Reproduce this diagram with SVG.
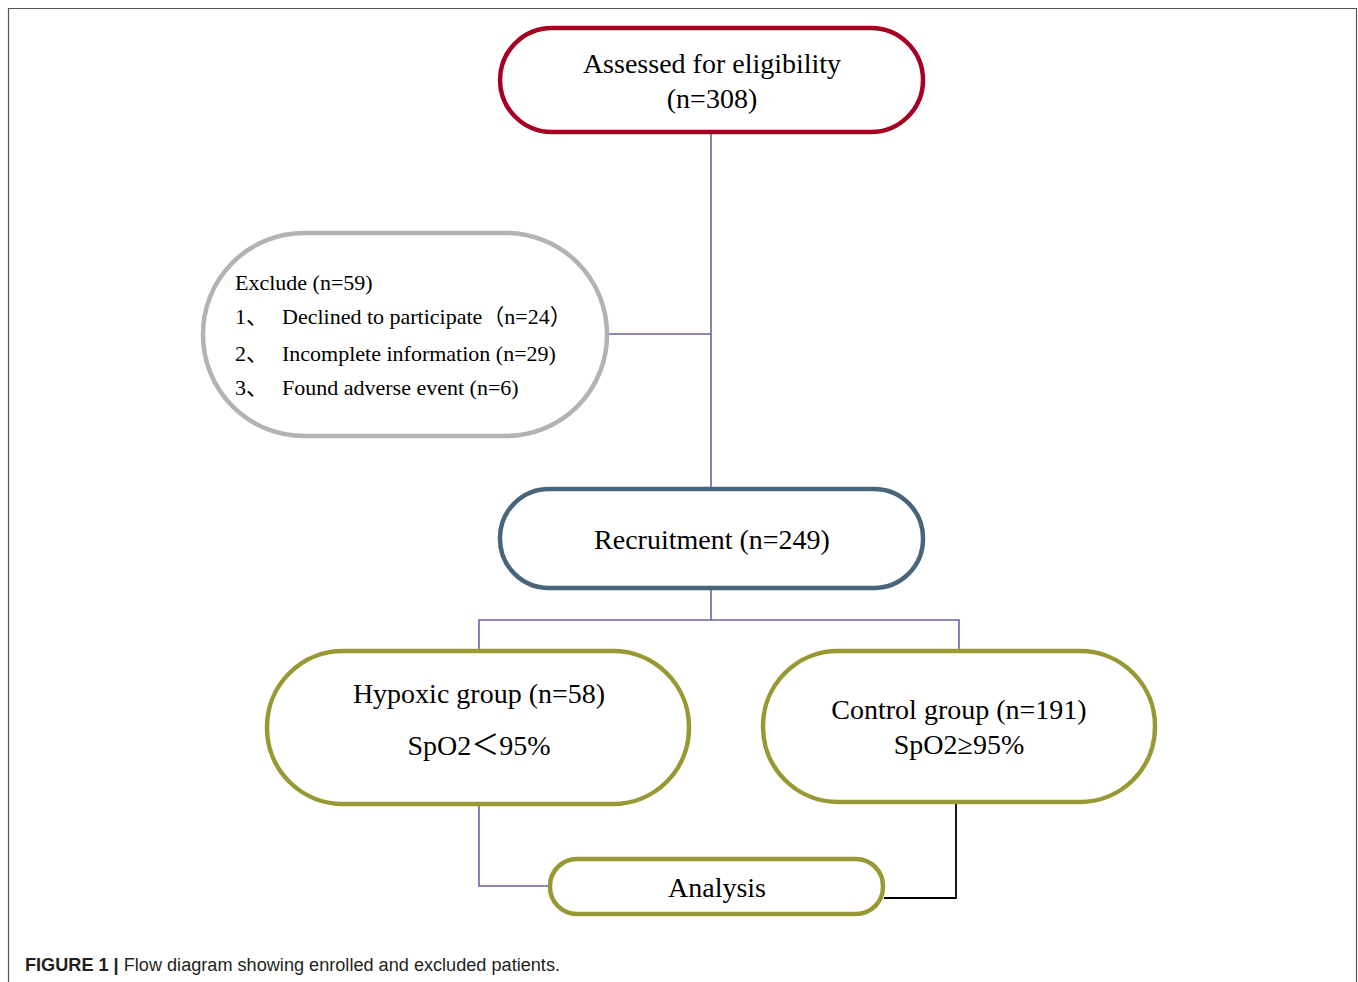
<svg xmlns="http://www.w3.org/2000/svg" width="1358" height="982" viewBox="0 0 1358 982">
<style>
.t{font-family:"Liberation Serif","Times New Roman","Noto Sans CJK SC",serif;fill:#000}
.big{font-size:28px}
.mid{font-size:22px}
.con{fill:none;stroke:#6464A8;stroke-width:1.6}
.olive{fill:#fff;stroke:#999933;stroke-width:4.5}
.cap{font-family:"Liberation Sans",Arial,sans-serif;font-size:18px;fill:#231f20}
</style>
<rect width="1358" height="982" fill="#fff"/>
<path d="M8.5 982 V8.5 H1356.5 V982" fill="none" stroke="#555" stroke-width="1.2"/>
<g id="connectors">
<path class="con" d="M711 127 V488"/>
<path class="con" d="M607 334 H711"/>
<path class="con" d="M711 589 V620 M479 650 V620 H959 V650"/>
<path class="con" d="M479 805 V886 H549"/>
<path d="M956 803 V898 H884" fill="none" stroke="#000" stroke-width="1.8"/>
</g>
<g id="assessed">
<rect x="500" y="28" width="423" height="104" rx="52" fill="#fff" stroke="#A50021" stroke-width="4.5"/>
<text class="t big" x="712" y="73" text-anchor="middle">Assessed for eligibility</text>
<text class="t big" x="712" y="108" text-anchor="middle">(n=308)</text>
</g>
<g id="exclude">
<rect x="203" y="233" width="404" height="203" rx="101" fill="#fff" stroke="#B3B3B3" stroke-width="4.5"/>
<text class="t mid" x="235" y="290">Exclude (n=59)</text>
<text class="t mid" x="235" y="324">1、</text>
<text class="t mid" x="282" y="324">Declined to participate（n=24）</text>
<text class="t mid" x="235" y="361">2、</text>
<text class="t mid" x="282" y="361">Incomplete information (n=29)</text>
<text class="t mid" x="235" y="395">3、</text>
<text class="t mid" x="282" y="395">Found adverse event (n=6)</text>
</g>
<g id="recruitment">
<rect x="500" y="489" width="423" height="99" rx="49" fill="#fff" stroke="#4A6579" stroke-width="4.5"/>
<text class="t big" x="712" y="549" text-anchor="middle">Recruitment (n=249)</text>
</g>
<g id="hypoxic">
<rect class="olive" x="267" y="651" width="422" height="153" rx="76"/>
<text class="t big" x="479" y="703" text-anchor="middle">Hypoxic group (n=58)</text>
<text class="t big" x="479" y="755" text-anchor="middle">SpO2＜95%</text>
</g>
<g id="control">
<rect class="olive" x="763" y="651" width="392" height="151" rx="75"/>
<text class="t big" x="959" y="719" text-anchor="middle">Control group (n=191)</text>
<text class="t big" x="959" y="754" text-anchor="middle">SpO2≥95%</text>
</g>
<g id="analysis">
<rect class="olive" x="550" y="859" width="333" height="55" rx="27"/>
<text class="t big" x="717" y="897" text-anchor="middle">Analysis</text>
</g>
<text class="cap" x="25" y="971" textLength="535" lengthAdjust="spacingAndGlyphs"><tspan font-weight="bold">FIGURE 1 | </tspan>Flow diagram showing enrolled and excluded patients.</text>
</svg>
